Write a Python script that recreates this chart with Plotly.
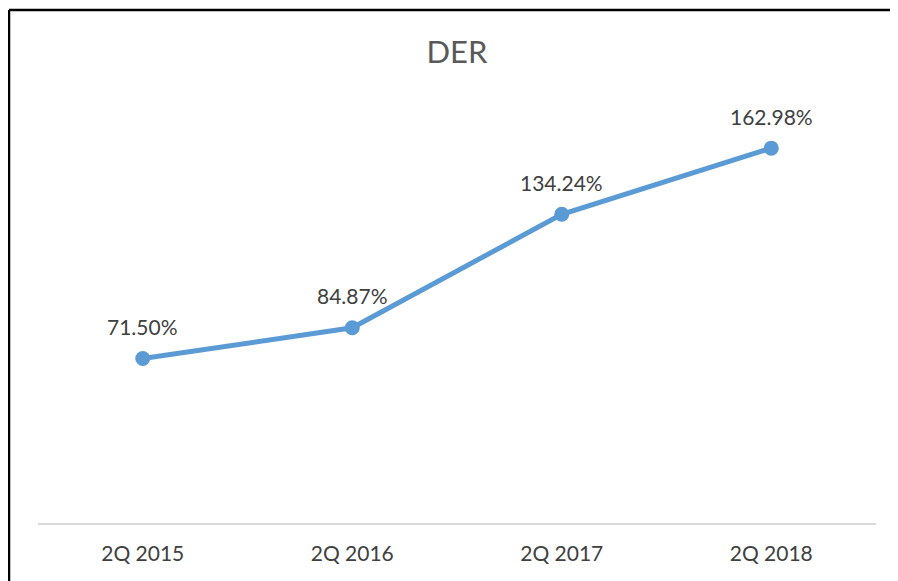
import plotly.graph_objects as go

quarters = ["2Q 2015", "2Q 2016", "2Q 2017", "2Q 2018"]
der = [71.50, 84.87, 134.24, 162.98]
der_labels = ["71.50%", "84.87%", "134.24%", "162.98%"]

font_name = "Lato"
text_color = "#404040"
blue = "#5B9BD5"

fig = go.Figure()
fig.add_trace(go.Scatter(
    x=quarters, y=der, mode="lines+markers",
    line=dict(color=blue, width=5),
    marker=dict(color=blue, size=15),
    hoverinfo="skip", showlegend=False,
))

for q, v, lab in zip(quarters, der, der_labels):
    fig.add_annotation(x=q, y=v, text=lab, showarrow=False, yshift=32,
                       font=dict(family=font_name, size=21, color=text_color))

# frame: only top and left edges are visible in the crop
fig.add_shape(type="line", xref="paper", yref="paper",
              x0=-0.0346, x1=1.1, y0=1.239, y1=1.239,
              line=dict(color="black", width=2.5))
fig.add_shape(type="line", xref="paper", yref="paper",
              x0=-0.0346, x1=-0.0346, y0=-0.2, y1=1.239,
              line=dict(color="black", width=2.5))

# page body adds 8px offset, so the figure is made 8px smaller and shifted in
fig.update_layout(
    width=890, height=573,
    margin=dict(l=30, r=22, t=101, b=58),
    paper_bgcolor="white", plot_bgcolor="white",
    title=dict(text="DER", xref="paper", x=0.5, xanchor="center",
               y=0.923, yanchor="middle",
               font=dict(family=font_name, size=31, color="#595959")),
    font=dict(family=font_name, size=21, color=text_color),
)
fig.update_xaxes(range=[-0.5, 3.5], showgrid=False, zeroline=False,
                 showline=True, linecolor="#D9D9D9", linewidth=1.5,
                 ticks="", ticklabelstandoff=11,
                 tickfont=dict(family=font_name, size=21, color=text_color))
fig.update_yaxes(range=[0, 180], visible=False)

fig.write_html("out.html")
